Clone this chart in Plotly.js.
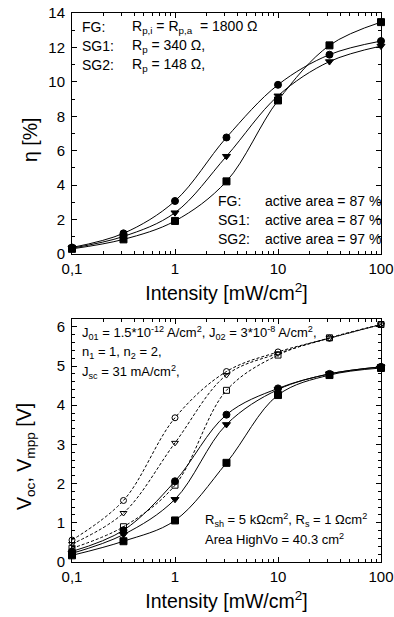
<!DOCTYPE html>
<html>
<head>
<meta charset="utf-8">
<script src="https://cdn.plot.ly/plotly-3.0.1.min.js"></script>
<style>
html,body{margin:0;padding:0;background:#fff;}
#chart{width:394px;height:617px;}
</style>
</head>
<body>
<div id="chart"></div>
<script>
// Intensity values [mW/cm^2]
const intensity = [0.1, 0.316, 1, 3.16, 10, 31.6, 100];

// Efficiency eta [%]
const etaFG  = [0.30, 0.85, 1.92, 4.22, 8.92, 12.12, 13.47];
const etaSG1 = [0.38, 1.20, 3.08, 6.77, 9.83, 11.58, 12.37];
const etaSG2 = [0.34, 1.02, 2.40, 5.68, 9.19, 11.18, 12.08];

// Voc (open symbols, dashed) [V]
const vocCircle   = [0.56, 1.57, 3.68, 4.86, 5.36, 5.71, 6.06];
const vocTriangle = [0.46, 1.25, 3.04, 4.77, 5.32, 5.71, 6.06];
const vocSquare   = [0.35, 0.90, 1.96, 4.38, 5.28, 5.72, 6.06];

// Vmpp (filled symbols, solid) [V]
const vmppCircle   = [0.27, 0.81, 2.06, 3.76, 4.43, 4.80, 4.98];
const vmppTriangle = [0.22, 0.70, 1.60, 3.51, 4.40, 4.80, 4.98];
const vmppSquare   = [0.17, 0.53, 1.06, 2.53, 4.26, 4.77, 4.95];

const xTickVals = [0.1, 1, 10, 100];
const xTickText = ['0,1', '1', '10', '100'];
const xMinorVals = [0.2,0.3,0.4,0.5,0.6,0.7,0.8,0.9,2,3,4,5,6,7,8,9,20,30,40,50,60,70,80,90];

function tr(x, y, xa, ya, sym, dash, size) {
  return {
    x: x, y: y, xaxis: xa, yaxis: ya, type: 'scatter', mode: 'lines+markers',
    line: {shape: 'spline', smoothing: 1, color: '#000', width: 1, dash: dash},
    marker: {symbol: sym, size: size || 7, color: '#000', line: {color: '#000', width: 1}},
    showlegend: false, cliponaxis: false
  };
}

const data = [
  tr(intensity, etaFG,  'x', 'y', 'square', 'solid'),
  tr(intensity, etaSG1, 'x', 'y', 'circle', 'solid'),
  tr(intensity, etaSG2, 'x', 'y', 'triangle-down', 'solid'),
  tr(intensity, vocCircle,   'x2', 'y2', 'circle-open', '3px,2px', 6),
  tr(intensity, vocTriangle, 'x2', 'y2', 'triangle-down-open', '3px,2px', 6),
  tr(intensity, vocSquare,   'x2', 'y2', 'square-open', '3px,2px', 6),
  tr(intensity, vmppCircle,   'x2', 'y2', 'circle', 'solid'),
  tr(intensity, vmppTriangle, 'x2', 'y2', 'triangle-down', 'solid'),
  tr(intensity, vmppSquare,   'x2', 'y2', 'square', 'solid')
];

const FAM = 'Liberation Sans, Arial, sans-serif';
const font = {family: FAM, size: 15, color: '#000'};
const titleFont = {family: FAM, size: 19.5, color: '#000'};

const ML = 72, MR = 13, MT = 13, MB = 55, W = 394, H = 617;
const PW = W - ML - MR, PH = H - MT - MB;

function xax(anchor) {
  return {
    type: 'log', range: [-1, 2], anchor: anchor,
    tickmode: 'array', tickvals: xTickVals, ticktext: xTickText,
    ticks: 'inside', ticklen: 5, tickwidth: 1, tickcolor: '#000',
    showline: true, linecolor: '#000', linewidth: 1, mirror: 'ticks',
    showgrid: false, zeroline: false, ticklabeloverflow: 'allow',
    ticklabelstandoff: 1,
    minor: {tickmode: 'array', tickvals: xMinorVals, ticks: 'inside', ticklen: 3, tickcolor: '#000', showgrid: false},
    title: {text: 'Intensity [mW/cm<sup>2</sup>]', font: titleFont, standoff: 10},
    tickfont: font
  };
}
function yax(anchor, range, dtick, minor, domain) {
  return {
    range: range, anchor: anchor, domain: domain,
    tickmode: 'linear', tick0: 0, dtick: dtick,
    ticks: 'inside', ticklen: 5, tickwidth: 1, tickcolor: '#000',
    showline: true, linecolor: '#000', linewidth: 1, mirror: 'ticks',
    showgrid: false, zeroline: false, ticklabelstandoff: 3,
    minor: {tickmode: 'linear', dtick: minor, ticks: 'inside', ticklen: 3, tickcolor: '#000', showgrid: false},
    tickfont: font
  };
}

function ann(text, px, py, size) {
  return {
    text: text, xref: 'paper', yref: 'paper',
    x: (px - ML) / PW, y: (H - MB - py) / PH,
    xanchor: 'left', yanchor: 'middle', showarrow: false,
    font: {family: FAM, size: size || 14, color: '#000'}
  };
}
function vtitle(text, px, py) {
  return {
    text: text, xref: 'paper', yref: 'paper',
    x: (px - ML) / PW, y: (H - MB - py) / PH,
    xanchor: 'center', yanchor: 'middle', showarrow: false, textangle: -90,
    font: titleFont
  };
}

const layout = {
  width: W, height: H,
  margin: {l: ML, r: MR, t: MT, b: MB},
  paper_bgcolor: '#fff', plot_bgcolor: '#fff',
  font: font,
  showlegend: false,
  xaxis: xax('y'),
  yaxis: yax('x', [0, 14], 2, 1, [0.561, 1]),
  xaxis2: xax('y2'),
  yaxis2: yax('x2', [0, 6.2], 1, 0.2, [0, 0.4426]),
  annotations: [
    vtitle('η [%]', 30, 140),
    vtitle('V<sub>oc</sub>, V<sub>mpp</sub> [V]', 25, 457),
    ann('FG:', 80, 27), ann('R<sub>p,i</sub> = R<sub>p,a</sub>  = 1800 Ω', 130, 27),
    ann('SG1:', 80, 46), ann('R<sub>p</sub> = 340 Ω,', 130, 46),
    ann('SG2:', 80, 65), ann('R<sub>p</sub> = 148 Ω,', 130, 65),
    ann('FG:', 216, 201), ann('active area = 87 %', 263, 201),
    ann('SG1:', 216, 220), ann('active area = 87 %', 263, 220),
    ann('SG2:', 216, 239), ann('active area = 97 %', 263, 239),
    ann('J<sub>01</sub> = 1.5*10<sup>-12</sup> A/cm<sup>2</sup>, J<sub>02</sub> = 3*10<sup>-8</sup> A/cm<sup>2</sup>,', 80, 333, 13),
    ann('n<sub>1</sub> = 1, n<sub>2</sub> = 2,', 80, 352, 13),
    ann('J<sub>sc</sub> = 31 mA/cm<sup>2</sup>,', 80, 372, 13),
    ann('R<sub>sh</sub> = 5 kΩcm<sup>2</sup>, R<sub>s</sub> = 1 Ωcm<sup>2</sup>', 203, 520, 13),
    ann('Area HighVo = 40.3 cm<sup>2</sup>', 203, 539, 13)
  ]
};

Plotly.newPlot('chart', data, layout, {staticPlot: true, displayModeBar: false});
</script>
</body>
</html>
